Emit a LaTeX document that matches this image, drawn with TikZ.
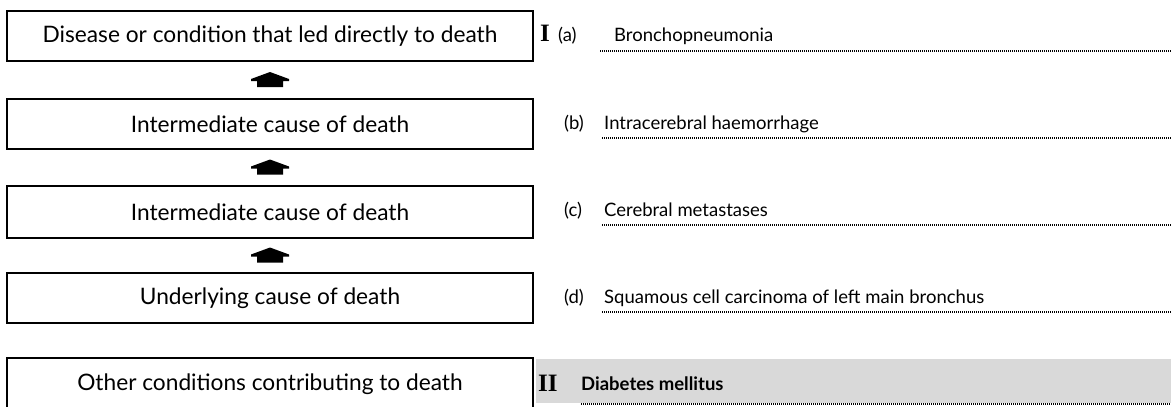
\documentclass[tikz,border=0pt]{standalone}
\usepackage{fontspec}
\setmainfont{Lato}
\newfontfamily\romanf{Liberation Serif}
\usetikzlibrary{calc}
\tikzset{
  causebox/.style={draw=black, line width=2.4pt, minimum width=526pt, minimum height=50pt, inner sep=0pt, font=\fontsize{22.7}{24}\selectfont},
  lab/.style={anchor=base west, inner sep=0pt, font=\fontsize{18.5}{20}\selectfont},
  txt/.style={anchor=base west, inner sep=0pt, font=\fontsize{18.5}{20}\selectfont},
  bigroman/.style={anchor=base west, inner sep=0pt, font=\romanf\bfseries\fontsize{25}{25}\selectfont},
  dotline/.style={line width=1.3pt, dash pattern=on 1.2pt off 0.8pt},
  uparrow/.pic={\fill (0,-8) -- (19,-1) -- (19,1) -- (13,1) -- (13,7) -- (-13,7) -- (-13,1) -- (-19,1) -- (-19,-1) -- cycle;}
}
\begin{document}
\begin{tikzpicture}[x=1pt,y=-1pt]
\useasboundingbox (0,0) rectangle (1171,407);
\fill[white] (0,0) rectangle (1171,407);
% left boxes
\node[causebox] (b1) at (270,36) {Disease or condition that led directly to death};
\node[causebox] (b2) at (270,124) {Intermediate cause of death};
\node[causebox, minimum height=52pt] (b3) at (270,212) {Intermediate cause of death};
\node[causebox] (b4) at (270,298) {Underlying cause of death};
\node[causebox, minimum height=52pt] (b5) at (270,384) {Other conditions contributing to death};
% arrows
\pic at ($(b1.south)!0.5!(b2.north)$) {uparrow};
\pic at ($(b2.south)!0.5!(b3.north)$) {uparrow};
\pic at ($(b3.south)!0.5!(b4.north)$) {uparrow};
% part II background
\fill[black!15] (536,359) rectangle (1171,403);
% right side
\node[bigroman] (pI) at (540,41) {I};
\node[lab] (la) at (558,41) {(a)};
\node[txt] (ta) at (614,41) {Bronchopneumonia};
\coordinate (a0) at (600,51); \coordinate (a1) at (1171,51);
\draw[dotline] (a0) -- (a1);

\node[lab] (lb) at (564,129) {(b)};
\node[txt] (tb) at (604,129) {Intracerebral haemorrhage};
\coordinate (b0) at (602,138); \coordinate (b1e) at (1171,138);
\draw[dotline] (b0) -- (b1e);

\node[lab] (lc) at (564,216) {(c)};
\node[txt] (tc) at (604,216) {Cerebral metastases};
\coordinate (c0) at (602,225); \coordinate (c1) at (1171,225);
\draw[dotline] (c0) -- (c1);

\node[lab] (ld) at (564,303) {(d)};
\node[txt] (td) at (604,303) {Squamous cell carcinoma of left main bronchus};
\coordinate (d0) at (602,312); \coordinate (d1) at (1171,312);
\draw[dotline] (d0) -- (d1);

\node[bigroman] (pII) at (538,391) {II};
\node[txt, font=\fontsize{18.5}{20}\selectfont\bfseries] (te) at (581,390) {Diabetes mellitus};
\coordinate (e0) at (581,404); \coordinate (e1) at (1171,404);
\draw[dotline] (e0) -- (e1);
\end{tikzpicture}
\end{document}
